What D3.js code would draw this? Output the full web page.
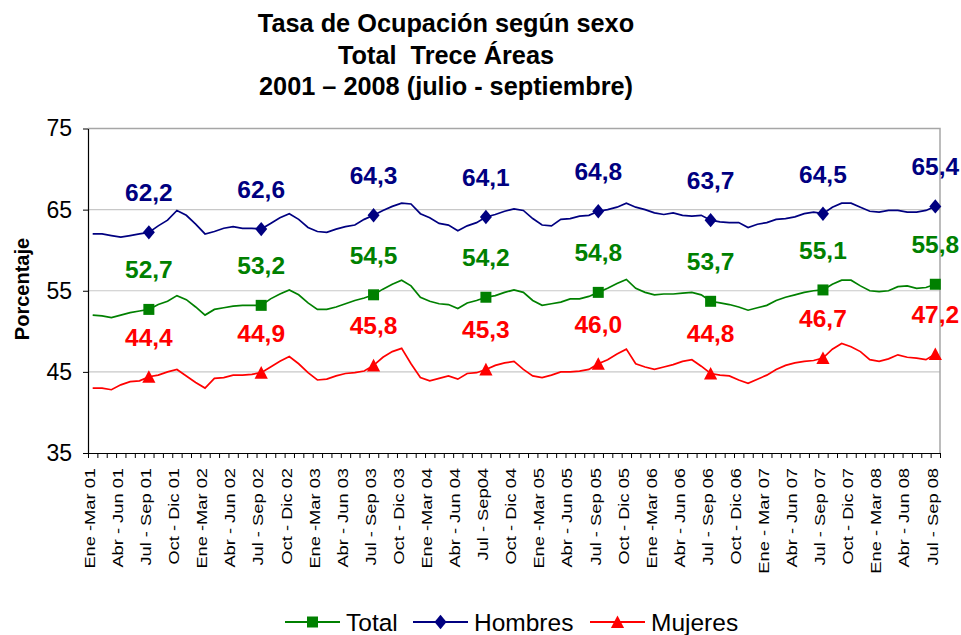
<!DOCTYPE html>
<html>
<head>
<meta charset="utf-8">
<script src="https://cdn.jsdelivr.net/npm/d3@7/dist/d3.min.js"></script>
<style>
	body { margin: 0; background: #fff; font-family: Arial, "Liberation Sans", sans-serif; }
	#chart svg { display: block; }
	.title { font-weight: bold; font-size: 25.3px; fill: #000; }
	.axis text { font-size: 23px; fill: #000; }
	.xlabel { font-size: 15px; fill: #000; }
	.dataLabel { font-weight: bold; font-size: 24.5px; }
	.legend text { font-size: 24.5px; fill: #000; }
</style>
</head>
<body>
<div id="chart"></div>
<script>

// etiquetas del eje x (una cada tres trimestres móviles)
var tickLabels = ["Ene -Mar 01","Abr - Jun 01","Jul - Sep 01","Oct - Dic 01",
	"Ene -Mar 02","Abr - Jun 02","Jul - Sep 02","Oct - Dic 02",
	"Ene -Mar 03","Abr - Jun 03","Jul - Sep 03","Oct - Dic 03",
	"Ene -Mar 04","Abr - Jun 04","Jul - Sep04","Oct - Dic 04",
	"Ene -Mar 05","Abr - Jun 05","Jul - Sep 05","Oct - Dic 05",
	"Ene -Mar 06","Abr - Jun 06","Jul - Sep 06","Oct - Dic 06",
	"Ene - Mar 07","Abr - Jun 07","Jul - Sep 07","Oct - Dic 07",
	"Ene - Mar 08","Abr - Jun 08","Jul - Sep 08"];

var yTicks = [35, 45, 55, 65, 75];

// trimestres móviles, ene-mar 01 ... jul-sep 08 (91 puntos)
var hombres = [62.0,62.0,61.8,61.6,61.8,62.0,62.2,63.0,63.7,64.9,64.3,63.2,
	62.0,62.3,62.7,62.9,62.7,62.7,62.6,63.3,64.0,64.5,63.8,62.8,
	62.3,62.2,62.6,62.9,63.1,63.8,64.3,64.9,65.4,65.8,65.7,64.5,
	64.0,63.3,63.1,62.4,63.0,63.4,64.1,64.4,64.8,65.1,64.9,63.9,
	63.1,63.0,63.8,63.9,64.2,64.3,64.8,65.0,65.3,65.8,65.3,65.0,
	64.6,64.4,64.6,64.3,64.2,64.3,63.7,63.5,63.4,63.4,62.8,63.2,
	63.4,63.8,63.9,64.1,64.5,64.7,64.5,65.3,65.8,65.8,65.3,64.8,
	64.7,64.9,64.9,64.7,64.7,64.9,65.4];

var total = [52.0,51.9,51.7,52.0,52.3,52.5,52.7,53.3,53.7,54.4,53.9,53.0,
	52.0,52.7,52.9,53.1,53.2,53.2,53.2,54.0,54.6,55.1,54.5,53.5,
	52.7,52.7,53.0,53.4,53.8,54.1,54.5,55.2,55.8,56.3,55.6,54.2,
	53.7,53.4,53.3,52.8,53.5,53.8,54.2,54.4,54.8,55.1,54.8,53.8,
	53.2,53.4,53.6,54.0,54.0,54.3,54.8,55.3,55.9,56.4,55.3,54.8,
	54.5,54.6,54.6,54.7,54.8,54.5,53.7,53.5,53.3,53.0,52.6,52.9,
	53.2,53.8,54.2,54.5,54.8,55.0,55.1,55.8,56.3,56.3,55.6,55.0,
	54.9,55.0,55.5,55.6,55.3,55.4,55.8];

var mujeres = [43.0,43.0,42.8,43.4,43.8,43.9,44.4,44.6,45.0,45.3,44.5,43.7,
	43.0,44.2,44.3,44.6,44.6,44.7,44.9,45.6,46.3,46.9,46.0,44.9,
	44.0,44.1,44.5,44.8,44.9,45.1,45.8,46.8,47.5,47.9,46.0,44.3,
	43.9,44.2,44.5,44.1,44.8,44.9,45.3,45.8,46.1,46.3,45.3,44.5,
	44.3,44.6,45.0,45.0,45.1,45.3,46.0,46.5,47.2,47.8,46.0,45.6,
	45.3,45.6,45.9,46.3,46.5,45.7,44.8,44.6,44.5,44.0,43.6,44.1,
	44.6,45.3,45.8,46.1,46.3,46.4,46.7,47.8,48.5,48.1,47.5,46.5,
	46.3,46.6,47.1,46.8,46.7,46.5,47.2];

var seriesNames = ["Total", "Hombres", "Mujeres"];
var seriesColors = ["#008000", "#000080", "#ff0000"];
var seriesMarkers = ["square", "diamond", "triangle"];

var width = 961, height = 635;
var margin = {top: 128.5, right: 21, bottom: 182, left: 88};
var chartWidth = width - margin.left - margin.right,
	chartHeight = height - margin.top - margin.bottom;

var series = [total, hombres, mujeres].map(function(v, i) {
	return {name: seriesNames[i], color: seriesColors[i], marker: seriesMarkers[i], values: v};
});
var n = total.length;

// índices donde va marcador + etiqueta (jul-sep de cada año)
var markIdx = [];
tickLabels.forEach(function(t, k) { if (t.indexOf("Jul") === 0) markIdx.push(k * 3); });

var xb = d3.scaleLinear().domain([0, n]).range([0, chartWidth]);
function xc(i) { return xb(i + 0.5); }
var y = d3.scaleLinear().domain([35, 75]).range([chartHeight, 0]);

function markerPath(type, s) {
	if (type == "square") return "M" + (-s/2) + "," + (-s/2) + "h" + s + "v" + s + "h" + (-s) + "Z";
	if (type == "diamond") return "M0," + (-s*0.6) + "L" + (s*0.5) + ",0L0," + (s*0.6) + "L" + (-s*0.5) + ",0Z";
	return "M0," + (-s*0.55) + "L" + (s*0.55) + "," + (s*0.5) + "L" + (-s*0.55) + "," + (s*0.5) + "Z";
}
var markerSize = {square: 11, diamond: 12, triangle: 12};

var svg = d3.select("#chart").append("svg")
	.attr("width", width)
	.attr("height", height);

// título
var titleLines = ["Tasa de Ocupación según sexo", "Total  Trece Áreas", "2001 – 2008 (julio - septiembre)"];
svg.selectAll(".title")
	.data(titleLines)
	.enter().append("text")
	.attr("class", "title")
	.attr("x", 446)
	.attr("y", function(d, i) { return 32 + i * 31.5; })
	.attr("text-anchor", "middle")
	.style("white-space", "pre")
	.attr("xml:space", "preserve")
	.text(function(d) { return d; });

var g = svg.append("g").attr("transform", "translate(" + margin.left + "," + margin.top + ")");

// rejilla
g.selectAll(".grid")
	.data(yTicks.filter(function(d) { return d > 35 && d < 75; }))
	.enter().append("line")
	.attr("x1", 0).attr("x2", chartWidth)
	.attr("y1", function(d) { return y(d); })
	.attr("y2", function(d) { return y(d); })
	.attr("stroke", "#c8c8c8")
	.attr("stroke-width", 1.2);

// borde superior y derecho
g.append("path")
	.attr("d", "M0," + y(75) + "H" + chartWidth + "V" + y(35))
	.attr("fill", "none")
	.attr("stroke", "#a6a6a6")
	.attr("stroke-width", 1.5);

// eje y
var yAxis = g.append("g")
	.attr("class", "axis")
	.call(d3.axisLeft(y).tickValues(yTicks).tickSize(5).tickSizeOuter(0).tickPadding(11));
yAxis.select(".domain").attr("stroke", "#000").attr("stroke-width", 1.2);
yAxis.selectAll("text").style("font-family", "Arial, 'Liberation Sans', sans-serif");

// eje x: marcas en cada trimestre móvil
var xAxis = g.append("g")
	.attr("transform", "translate(0," + chartHeight + ")")
	.call(d3.axisBottom(xb).tickValues(d3.range(n + 1)).tickSize(5).tickSizeOuter(0).tickFormat(""));
xAxis.select(".domain").attr("stroke", "#000").attr("stroke-width", 1.2);

g.selectAll(".xlabel")
	.data(tickLabels)
	.enter().append("text")
	.attr("class", "xlabel")
	.attr("transform", function(d, k) {
		return "translate(" + (xc(k * 3) - 3) + "," + (chartHeight + 15) + ") rotate(-90) scale(1.22,1)";
	})
	.attr("dy", ".35em")
	.attr("text-anchor", "end")
	.text(function(d) { return d; });

// etiqueta eje y
svg.append("text")
	.attr("transform", "translate(29,289) rotate(-90)")
	.attr("text-anchor", "middle")
	.style("font-weight", "bold")
	.style("font-size", "20px")
	.text("Porcentaje");

// líneas
var line = d3.line()
	.x(function(d, i) { return xc(i); })
	.y(function(d) { return y(d); });

var s = g.selectAll(".serie")
	.data(series)
	.enter().append("g")
	.attr("class", "serie");

s.append("path")
	.attr("d", function(d) { return line(d.values); })
	.attr("fill", "none")
	.attr("stroke", function(d) { return d.color; })
	.attr("stroke-width", 1.7);

s.each(function(d) {
	var pts = markIdx.map(function(i) { return {i: i, v: d.values[i]}; });
	d3.select(this).selectAll(".mk")
		.data(pts)
		.enter().append("path")
		.attr("transform", function(p) { return "translate(" + xc(p.i) + "," + y(p.v) + ")"; })
		.attr("d", markerPath(d.marker, markerSize[d.marker]))
		.attr("fill", d.color);
	d3.select(this).selectAll(".dataLabel")
		.data(pts)
		.enter().append("text")
		.attr("class", "dataLabel")
		.attr("x", function(p) { return xc(p.i); })
		.attr("y", function(p) { return y(p.v) - 31; })
		.attr("text-anchor", "middle")
		.attr("fill", d.color)
		.text(function(p) { return d3.format(".1f")(p.v).replace(".", ","); });
});

// leyenda
var legendX = [285, 413, 590];
var leg = svg.append("g").attr("class", "legend")
	.selectAll("g")
	.data(series)
	.enter().append("g")
	.attr("transform", function(d, i) { return "translate(" + legendX[i] + ",622)"; });

leg.append("line")
	.attr("x1", 0).attr("x2", 55)
	.attr("stroke", function(d) { return d.color; })
	.attr("stroke-width", 2);
leg.append("path")
	.attr("transform", "translate(27.5,0)")
	.attr("d", function(d) { return markerPath(d.marker, markerSize[d.marker]); })
	.attr("fill", function(d) { return d.color; });
leg.append("text")
	.attr("x", 61)
	.attr("y", 8.5)
	.text(function(d) { return d.name; });

</script>
</body>
</html>
